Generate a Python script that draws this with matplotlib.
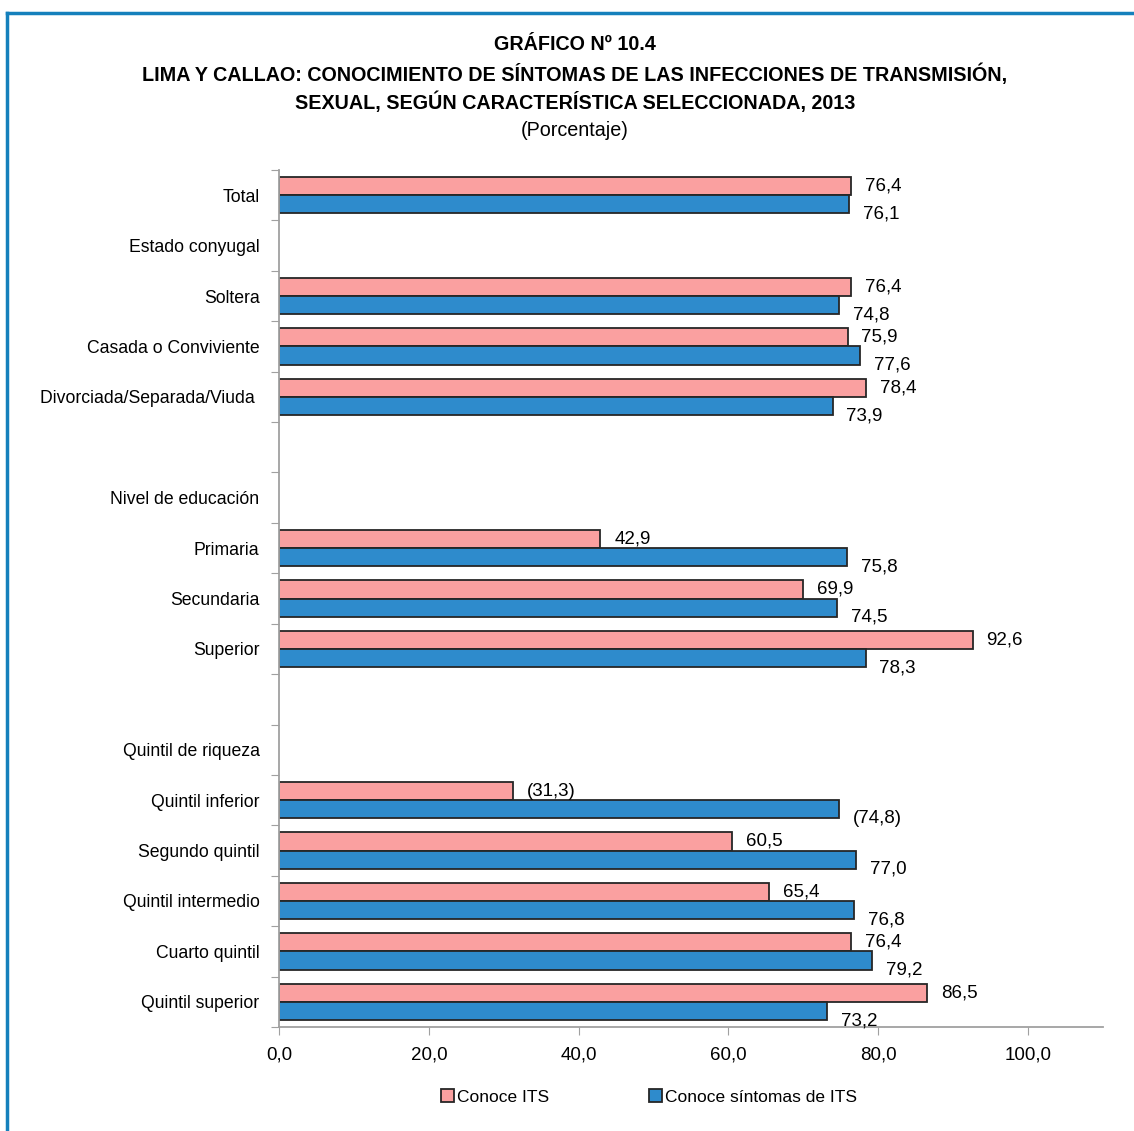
import numpy as np
import matplotlib
matplotlib.use("Agg")
import matplotlib.pyplot as plt
from matplotlib.lines import Line2D
from matplotlib.patches import Patch

plt.rcParams['font.family'] = ['Liberation Sans', 'DejaVu Sans']

# Data
categories = ['Total', 'Estado conyugal', 'Soltera', 'Casada o Conviviente',
              'Divorciada/Separada/Viuda ', '', 'Nivel de educación', 'Primaria',
              'Secundaria', 'Superior', '', 'Quintil de riqueza', 'Quintil inferior',
              'Segundo quintil', 'Quintil intermedio', 'Cuarto quintil', 'Quintil superior']
conoce_its = [76.4, None, 76.4, 75.9, 78.4, None, None, 42.9, 69.9, 92.6,
              None, None, 31.3, 60.5, 65.4, 76.4, 86.5]
conoce_sintomas = [76.1, None, 74.8, 77.6, 73.9, None, None, 75.8, 74.5, 78.3,
                   None, None, 74.8, 77.0, 76.8, 79.2, 73.2]
parentheses = ['Quintil inferior']
series_names = ['Conoce ITS', 'Conoce síntomas de ITS']

pink = '#FAA0A0'
blue = '#2E8BCC'
edge = '#262626'

fig = plt.figure(figsize=(11.34, 11.31), dpi=100)
ax = fig.add_axes([279/1134, 1 - 1027/1131, (1103-279)/1134, (1027-170)/1131])

h = 0.36
y = np.arange(len(categories))


def fmt(v, cat):
    s = f"{v:.1f}".replace('.', ',')
    if cat in parentheses:
        s = '(' + s + ')'
    return s


for i, cat in enumerate(categories):
    a = conoce_its[i]
    b = conoce_sintomas[i]
    if a is None:
        continue
    ax.barh(i - h/2, a, height=h, color=pink, edgecolor=edge, linewidth=1.3)
    ax.barh(i + h/2, b, height=h, color=blue, edgecolor=edge, linewidth=1.3)
    ax.annotate(fmt(a, cat), (a, i - h/2), xytext=(10, 0), textcoords='offset points',
                ha='left', va='center', fontsize=13.5)
    ax.annotate(fmt(b, cat), (b, i + h/2), xytext=(10, -7), textcoords='offset points',
                ha='left', va='center', fontsize=13.5)

ax.set_xlim(0, 110)
ax.set_ylim(len(categories) - 0.5, -0.5)

ax.set_xticks([0, 20, 40, 60, 80, 100])
ax.set_xticklabels(['0,0', '20,0', '40,0', '60,0', '80,0', '100,0'], fontsize=13.5)
ax.tick_params(axis='x', length=6, color='#a0a0a0', pad=8)

ax.set_yticks(np.arange(-0.5, len(categories), 1))
ax.set_yticklabels([])
ax.set_yticks(y, minor=True)
ax.set_yticklabels(categories, minor=True, fontsize=12.7)
ax.tick_params(axis='y', which='major', length=6, color='#a0a0a0')
ax.tick_params(axis='y', which='minor', length=0, pad=14)

for s in ['top', 'right']:
    ax.spines[s].set_visible(False)
for s in ['left', 'bottom']:
    ax.spines[s].set_color('#a0a0a0')
    ax.spines[s].set_linewidth(1.3)

# titles
tx = 575 / 1134
fig.text(tx, 1 - 44/1131, 'GRÁFICO Nº 10.4', ha='center', va='center',
         fontsize=14.2, fontweight='bold')
fig.text(tx, 1 - 74/1131,
         'LIMA Y CALLAO: CONOCIMIENTO DE SÍNTOMAS DE LAS INFECCIONES DE TRANSMISIÓN,',
         ha='center', va='center', fontsize=14.2, fontweight='bold')
fig.text(tx, 1 - 102/1131, 'SEXUAL, SEGÚN CARACTERÍSTICA SELECCIONADA, 2013',
         ha='center', va='center', fontsize=14.2, fontweight='bold')
fig.text(tx, 1 - 131/1131, '(Porcentaje)', ha='center', va='center', fontsize=14.2)

# legend
handles = [Patch(facecolor=pink, edgecolor=edge, linewidth=1.3),
           Patch(facecolor=blue, edgecolor=edge, linewidth=1.3)]
fig.legend(handles, series_names, loc='center', bbox_to_anchor=(649/1134, 1 - 1097/1131),
           ncol=2, frameon=False, fontsize=12.5, handlelength=0.75, handleheight=0.75,
           handletextpad=0.15, columnspacing=5.8)

# border lines (top and left)
bc = '#1580BC'
fig.add_artist(Line2D([7/1134, 7/1134], [0, 1 - 13/1131], transform=fig.transFigure,
                      color=bc, linewidth=2.5))
fig.add_artist(Line2D([7/1134, 1], [1 - 13/1131, 1 - 13/1131], transform=fig.transFigure,
                      color=bc, linewidth=2.5))

fig.savefig('out.png', dpi=100)
